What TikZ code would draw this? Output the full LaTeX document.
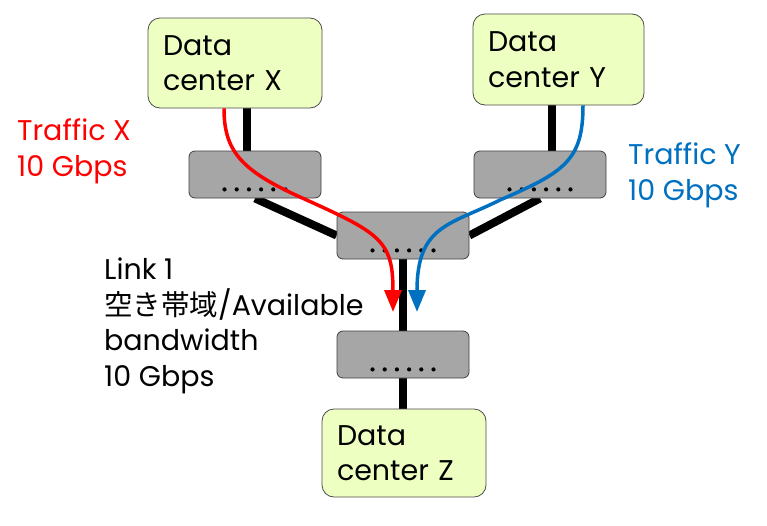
\documentclass[tikz,border=0pt]{standalone}
\usepackage{fontspec}
\setmainfont{Poppins}
\newfontfamily\cjkfont{Noto Sans CJK JP}
\usetikzlibrary{arrows.meta,calc,backgrounds}
\definecolor{boxfill}{RGB}{238,255,194}
\definecolor{swfill}{RGB}{166,166,166}
\definecolor{tred}{RGB}{255,0,0}
\definecolor{tblue}{RGB}{0,112,192}
\begin{document}
\begin{tikzpicture}[x=1pt,y=-1pt,
  txt/.style={font=\fontsize{28.5pt}{35.5pt}\selectfont},
  dcbox/.style={txt, draw=black!70, line width=0.8pt, fill=boxfill, rounded corners=12pt,
    align=left, inner xsep=15pt, inner ysep=0pt},
  swbox/.style={draw=black!75, line width=0.8pt, fill=swfill, rounded corners=6pt,
    minimum width=132pt, minimum height=47pt, inner sep=0pt},
  link/.style={line width=8pt},
  flow/.style={line width=3.5pt, -{Triangle[length=22pt,width=17pt]}},
  lbl/.style={txt, align=left, inner sep=0pt, anchor=base west}]
\path[use as bounding box] (0,0) rectangle (767,525);

\node[dcbox, minimum width=174pt, minimum height=90pt, text width=144pt] (dcx) at (235,63) {Data\\center X};
\node[dcbox, minimum width=171pt, minimum height=91pt, text width=141pt] (dcy) at (558.5,59.5) {Data\\center Y};
\node[dcbox, minimum width=164pt, minimum height=88pt, text width=134pt] (dcz) at (404,453) {Data\\center Z};

\node[swbox] (s1) at (255,174.5) {};
\node[swbox] (s2) at (540,174.5) {};
\node[swbox] (s3) at (403,235.5) {};
\node[swbox] (s4) at (403,354.5) {};

\foreach \n in {s1,s2,s3,s4}{
  \foreach \i in {-2.5,-1.5,...,2.5}{
    \fill ($(\n.south)+(\i*12.2,-9)$) circle (2.1pt);
  }
}

\begin{scope}[on background layer]
  \fill[white] (0,0) rectangle (767,525);
  \draw[link] ([xshift=12pt]dcx.south) -- ([xshift=12pt]dcx.south |- s1.north);
  \draw[link] ([xshift=-6.5pt]dcy.south) -- ([xshift=-6.5pt]dcy.south |- s2.north);
  \draw[link] (s1.south) -- (s3.west);
  \draw[link] (s2.south) -- (s3.east);
  \draw[link] (s3.south) -- (s4.north);
  \draw[link] (s4.south) -- (s4.south |- dcz.north);
\end{scope}

\coordinate (redtip) at (393,312);
\coordinate (bluetip) at (417,312);
\draw[flow, tred] ([xshift=-11pt]dcx.south) .. controls (224,150) and (240,170) .. (300,197)
  .. controls (380,233) and (393,240) .. (redtip);
\draw[flow, tblue] ([xshift=24.5pt]dcy.south) .. controls (583,160) and (565,172) .. (500,200)
  .. controls (450,225) and (417,225) .. (bluetip);

\node[lbl, text=tred] (tx) at (17,176) {Traffic X\\10 Gbps};
\node[lbl, text=tblue] (ty) at (628,200) {Traffic Y\\10 Gbps};
\node[lbl] (l1) at (104,386) {Link 1\\{\cjkfont 空き帯域}/Available\\bandwidth\\10 Gbps};
\end{tikzpicture}
\end{document}
